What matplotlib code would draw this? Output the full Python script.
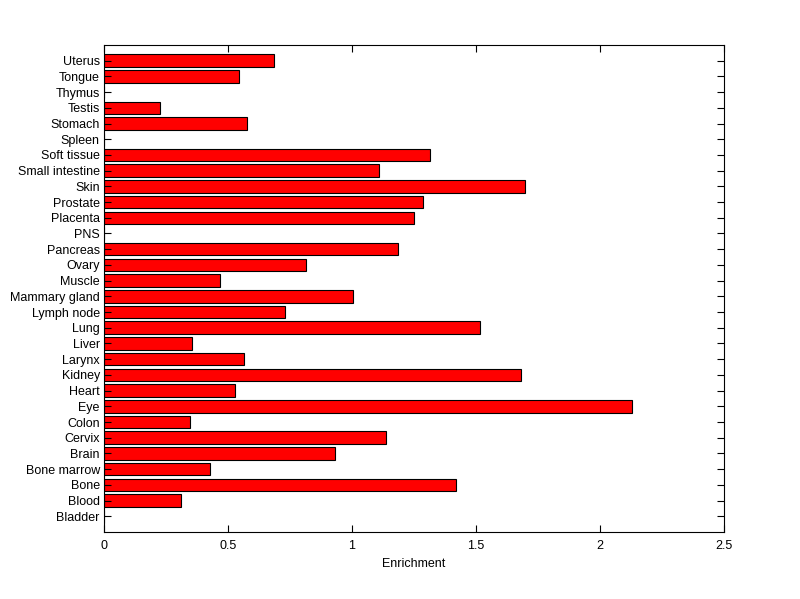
import matplotlib
matplotlib.use('Agg')
import matplotlib.pyplot as plt

tissues = ['Bladder', 'Blood', 'Bone', 'Bone marrow', 'Brain', 'Cervix', 'Colon', 'Eye',
           'Heart', 'Kidney', 'Larynx', 'Liver', 'Lung', 'Lymph node', 'Mammary gland',
           'Muscle', 'Ovary', 'Pancreas', 'PNS', 'Placenta', 'Prostate', 'Skin',
           'Small intestine', 'Soft tissue', 'Spleen', 'Stomach', 'Testis', 'Thymus',
           'Tongue', 'Uterus']
enrichment = [0, 0.31, 1.419, 0.427, 0.931, 1.137, 0.347, 2.129,
              0.528, 1.681, 0.565, 0.355, 1.516, 0.730, 1.004,
              0.468, 0.815, 1.185, 0, 1.25, 1.286, 1.698,
              1.109, 1.315, 0, 0.577, 0.226, 0,
              0.544, 0.685]

plt.rcParams['font.family'] = ['Liberation Sans', 'DejaVu Sans']
plt.rcParams['font.size'] = 9

fig = plt.figure(figsize=(8, 5.99), dpi=100)
ax = fig.add_axes([0.13, 0.1119, 0.775, 0.813])

positions = list(range(1, len(tissues) + 1))
ax.barh(positions, enrichment, height=0.8, color='#ff0000', edgecolor='black', linewidth=0.8)

ax.set_xlim(0, 2.5)
ax.set_ylim(0, len(tissues) + 1)
ax.set_xticks([0, 0.5, 1, 1.5, 2, 2.5])
ax.set_xticklabels(['0', '0.5', '1', '1.5', '2', '2.5'])
ax.set_yticks(positions)
ax.set_yticklabels(tissues)
ax.set_xlabel('Enrichment', labelpad=4)

ax.tick_params(direction='in', top=True, right=True, length=5, width=0.8)
ax.tick_params(axis='x', pad=6)
ax.tick_params(axis='y', pad=3)
for s in ax.spines.values():
    s.set_linewidth(0.8)

fig.savefig('out.png', dpi=100)
